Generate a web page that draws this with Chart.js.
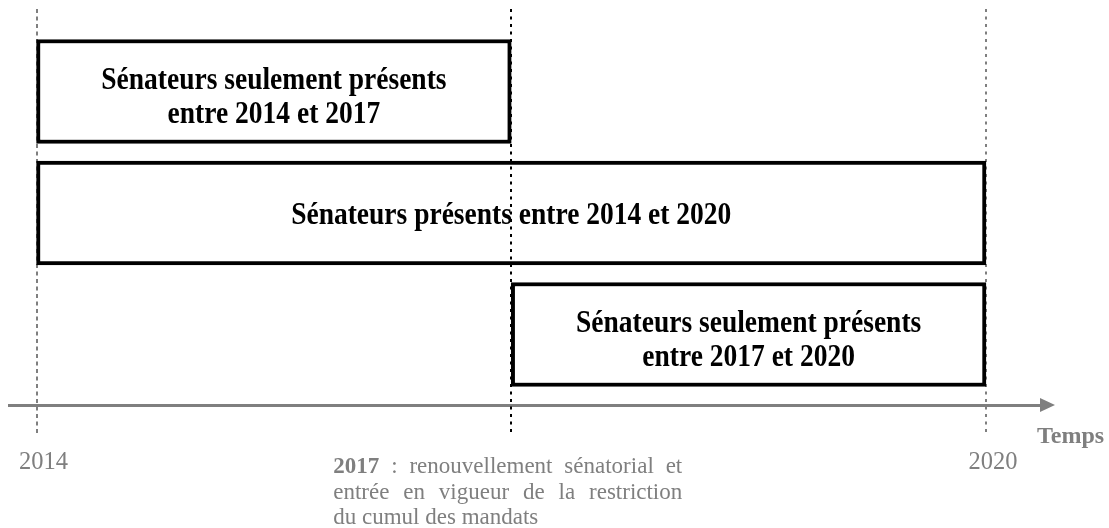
<!DOCTYPE html>
<html lang="fr">
<head>
<meta charset="utf-8">
<title>Sénateurs présents entre 2014 et 2020</title>
<script src="https://cdn.jsdelivr.net/npm/chart.js@4.4.1/dist/chart.umd.min.js"></script>
<style>
  html, body { margin: 0; padding: 0; background: #fff; }
  #chartContainer { width: 1109px; height: 528px; }
</style>
</head>
<body>
<div id="chartContainer"><canvas id="myChart"></canvas></div>
<script>
// Boîtes : texte, année de début, année de fin, rang (de haut en bas)
var categories = [
  ["Sénateurs seulement présents", "entre 2014 et 2017"],
  ["Sénateurs présents entre 2014 et 2020"],
  ["Sénateurs seulement présents", "entre 2017 et 2020"]
];
var startYears = [2014, 2014, 2017];
var endYears = [2017, 2020, 2020];
var rows = [1, 2, 3];

// Axe du temps
var tickYears = [2014, 2017, 2020];
var tickLabels = ["2014", "", "2020"];
var axisTitle = "Temps";
var noteYear = "2017";
var noteLines = [" : renouvellement sénatorial et", "entrée en vigueur de la restriction", "du cumul des mandats"];

var GREY = "#7f7f7f";
var SERIF = "'Liberation Serif', 'Times New Roman', serif";

// Draw a dashed vertical line for one year, from the top of the chart to just under the axis.
function drawYearLine(chart, year, color, dash) {
  var ctx = chart.ctx;
  var area = chart.chartArea;
  var x = Math.round(chart.scales.x.getPixelForValue(year));
  ctx.save();
  ctx.strokeStyle = color;
  ctx.lineWidth = 2;
  ctx.setLineDash(dash);
  ctx.beginPath();
  ctx.moveTo(x, area.top);
  ctx.lineTo(x, area.bottom + 28);
  ctx.stroke();
  ctx.restore();
}

// Text in the middle of each box (the source text is slightly stretched vertically).
function drawBoxLabels(chart) {
  var ctx = chart.ctx;
  var bars = chart.getDatasetMeta(0).data;
  ctx.save();
  ctx.fillStyle = "#000";
  ctx.font = "bold 27.5px " + SERIF;
  ctx.textAlign = "center";
  ctx.textBaseline = "alphabetic";
  for (let i = 0; i < bars.length; i++) {
    const bar = bars[i];
    const lines = categories[i];
    const cx = (bar.x + bar.base) / 2;
    const lineGap = 34;
    const shift = lines.length > 1 ? 14.5 : 11;
    const y0 = bar.y + shift - (lines.length - 1) * lineGap / 2;
    for (let j = 0; j < lines.length; j++) {
      ctx.save();
      ctx.translate(cx, y0 + j * lineGap);
      ctx.scale(1, 1.16);
      ctx.fillText(lines[j], 0, 0);
      ctx.restore();
    }
  }
  ctx.restore();
}

// Arrow head at the end of the axis and the "Temps" title.
function drawArrow(chart) {
  var ctx = chart.ctx;
  var area = chart.chartArea;
  var y = area.bottom;
  ctx.save();
  ctx.fillStyle = GREY;
  ctx.beginPath();
  ctx.moveTo(area.right - 2, y - 7);
  ctx.lineTo(area.right + 13, y);
  ctx.lineTo(area.right - 2, y + 7);
  ctx.closePath();
  ctx.fill();
  ctx.font = "bold 24px " + SERIF;
  ctx.textAlign = "left";
  ctx.textBaseline = "alphabetic";
  ctx.fillText(axisTitle, area.right - 5, y + 38);
  ctx.restore();
}

// Justified paragraph under the 2017 mark.
function drawNote(chart) {
  var ctx = chart.ctx;
  var area = chart.chartArea;
  var x0 = chart.scales.x.getPixelForValue(2017) - 178;
  var width = 349;
  var regular = "23px " + SERIF;
  var bold = "bold 23px " + SERIF;
  ctx.save();
  ctx.fillStyle = GREY;
  ctx.textAlign = "left";
  ctx.textBaseline = "alphabetic";

  var lines = [
    [{ t: noteYear, b: true }].concat(noteLines[0].trim().split(" ").map(w => ({ t: w, b: false }))),
    noteLines[1].split(" ").map(w => ({ t: w, b: false })),
    noteLines[2].split(" ").map(w => ({ t: w, b: false }))
  ];
  for (let i = 0; i < lines.length; i++) {
    const words = lines[i];
    const y = area.bottom + 68 + i * 25.5;
    let total = 0;
    words.forEach(w => { ctx.font = w.b ? bold : regular; w.w = ctx.measureText(w.t).width; total += w.w; });
    ctx.font = regular;
    let gap = ctx.measureText(" ").width;
    if (i < 2) gap = (width - total) / (words.length - 1);
    let x = x0;
    words.forEach(w => {
      ctx.font = w.b ? bold : regular;
      ctx.fillText(w.t, x, y);
      x += w.w + gap;
    });
  }
  ctx.restore();
}

var timelinePlugin = {
  id: "timeline",
  beforeDatasetsDraw: function(chart) {
    drawYearLine(chart, 2014, GREY, [4, 3.5]);
    drawYearLine(chart, 2020, GREY, [3, 4.5]);
  },
  afterDatasetsDraw: function(chart) {
    drawYearLine(chart, 2017, "#000", [3, 4.5]);
    drawBoxLabels(chart);
    drawArrow(chart);
    drawNote(chart);
  }
};

var ctx = document.getElementById("myChart");
var myChart = new Chart(ctx, {
  type: "bar",
  data: {
    datasets: [
      {
        label: "Présence",
        data: rows.map((r, i) => ({ x: [startYears[i], endYears[i]], y: r })),
        backgroundColor: "#ffffff",
        borderColor: "#000000",
        borderWidth: 4,
        borderSkipped: false,
        barThickness: 104
      }
    ]
  },
  options: {
    indexAxis: "y",
    responsive: true,
    maintainAspectRatio: false,
    animation: false,
    layout: { padding: { left: 9, right: 67, top: 9, bottom: 0 } },
    plugins: {
      legend: { display: false },
      tooltip: { enabled: false },
      title: { display: false }
    },
    scales: {
      x: {
        type: "linear",
        position: "bottom",
        offset: false,
        min: 2013.826,
        max: 2020.354,
        afterBuildTicks: function(scale) {
          scale.ticks = tickYears.map(v => ({ value: v }));
        },
        afterFit: function(scale) {
          // fixed height, and no extra side padding for the end labels
          scale.height = 123;
          scale.paddingLeft = 0;
          scale.paddingRight = 0;
        },
        border: { display: true, color: GREY, width: 3 },
        grid: { display: false, drawTicks: false },
        ticks: {
          autoSkip: false,
          maxRotation: 0,
          color: GREY,
          padding: 43,
          labelOffset: 7,
          font: { family: SERIF, size: 24.5, lineHeight: 1.2 },
          callback: function(value) {
            return tickLabels[tickYears.indexOf(value)];
          }
        }
      },
      y: {
        type: "linear",
        display: false,
        reverse: true,
        offset: false,
        grid: { offset: false },
        min: 0.321,
        max: 3.58
      }
    }
  },
  plugins: [timelinePlugin]
});
</script>
</body>
</html>
